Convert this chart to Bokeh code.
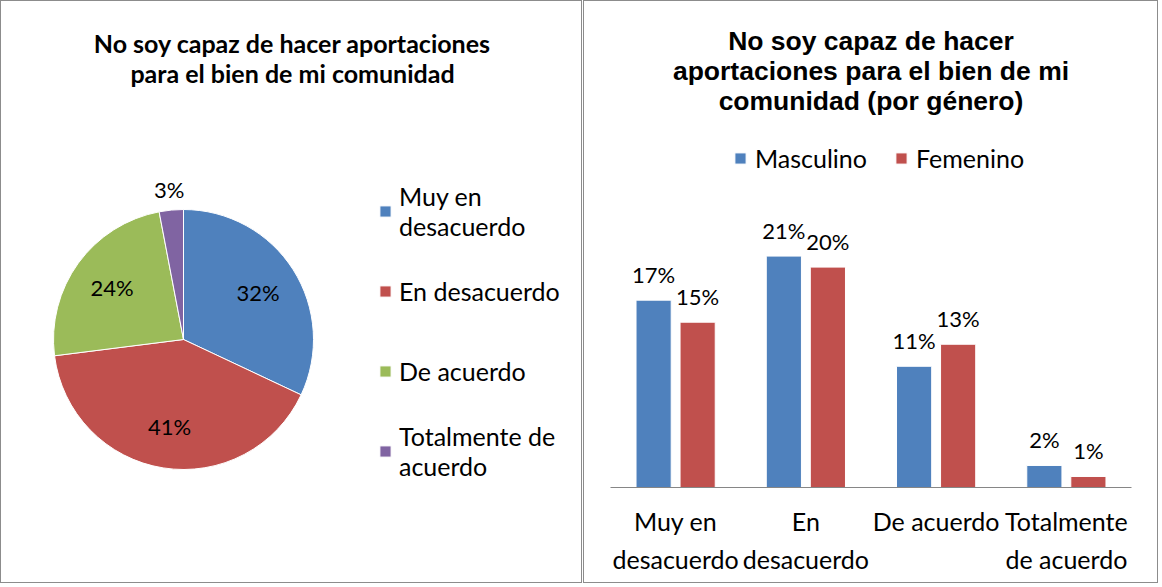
import numpy as np
from bokeh.plotting import figure
from bokeh.models import (ColumnDataSource, Range1d, FactorRange, Legend,
                          LegendItem, Label, InlineStyleSheet)
from bokeh.transform import dodge
from bokeh.layouts import row
from bokeh.core.properties import value
from bokeh.embed import file_html
from bokeh.resources import INLINE

# ---------------- data ----------------
pie_categories = ["Muy en desacuerdo", "En desacuerdo", "De acuerdo", "Totalmente de acuerdo"]
pie_legend_labels = ["Muy en\ndesacuerdo", "En desacuerdo", "De acuerdo", "Totalmente de\nacuerdo"]
pie_values = [32, 41, 24, 3]
pie_colors = ["#4F81BD", "#C0504D", "#9BBB59", "#8064A2"]

bar_categories = ["Muy en desacuerdo", "En desacuerdo", "De acuerdo", "Totalmente de acuerdo"]
bar_tick_labels = ["Muy en\ndesacuerdo", "En\ndesacuerdo", "De acuerdo", "Totalmente\nde acuerdo"]
masculino = [17, 21, 11, 2]
femenino = [15, 20, 13, 1]
series_names = ["Masculino", "Femenino"]
series_colors = ["#4F81BD", "#C0504D"]

title_left = ["No soy capaz de hacer aportaciones", "para el bien de mi comunidad"]
title_right = ["No soy capaz de hacer", "aportaciones para el bien de mi", "comunidad (por género)"]

BODY = "Lato"
H = 583          # inner height of each panel
BOT = 97         # space below the plotting frame (category labels)
FH = H - BOT     # frame height (pixel units)


def border_sheet():
    return InlineStyleSheet(css=":host { border: 1px solid #8c8c8c; }")


def py(abs_y):
    """panel pixel row -> frame pixel coordinate (bottom-up)"""
    return FH + 1 - abs_y


# ---------------- pie chart ----------------
W1 = 582
p1 = figure(width=W1, height=H, x_range=Range1d(0, W1), y_range=Range1d(0, FH),
            toolbar_location=None, output_backend="svg", x_axis_location=None,
            y_axis_location=None, min_border_left=0, min_border_right=0,
            min_border_bottom=BOT, min_border_top=0, title=None)
p1.grid.visible = False
p1.outline_line_color = None
p1.stylesheets = [border_sheet()]

vals = np.array(pie_values, dtype=float)
frac = vals / vals.sum()
cum = np.concatenate([[0], np.cumsum(frac)])
start = np.pi / 2 - 2 * np.pi * cum[:-1]
end = np.pi / 2 - 2 * np.pi * cum[1:]
mid = (start + end) / 2
cx, cy, R = 182, py(339), 130
lab_r = np.where(frac >= 0.05, 0.68 * R, R + 21)
pie_src = ColumnDataSource(dict(
    cat=pie_categories, start=start, end=end, color=pie_colors,
    lx=cx + lab_r * np.cos(mid), ly=cy + lab_r * np.sin(mid),
    lbl=[f"{v:.0f}%" for v in pie_values]))
wr = p1.wedge(x=cx, y=cy, radius=R, start_angle="start", end_angle="end",
              direction="clock", fill_color="color", line_color="white",
              line_width=1, source=pie_src)
p1.text(x="lx", y="ly", text="lbl", source=pie_src, text_align="center",
        text_baseline="middle", text_font=value(BODY), text_font_size="22px",
        text_color="black")

leg1 = Legend(items=[LegendItem(label=pie_legend_labels[i], renderers=[wr], index=i)
                     for i in range(len(pie_categories))],
              location=(377, 6), orientation="vertical",
              glyph_width=14, glyph_height=14, label_standoff=7,
              label_text_font=BODY, label_text_font_size="25px",
              label_text_color="black", label_text_line_height=1.2,
              label_height=60, spacing=20, padding=0, margin=0,
              border_line_color=None, background_fill_alpha=0)
p1.add_layout(leg1)

for t, b in zip(title_left, (42, 72)):
    p1.add_layout(Label(x=291, y=py(b), text=t, text_align="center",
                        text_baseline="alphabetic", text_font=BODY,
                        text_font_size="25px", text_font_style="bold",
                        text_color="black"))

# ---------------- bar chart ----------------
W2 = 575
SCALE = 11.02
p2 = figure(width=W2, height=H, x_range=FactorRange(*bar_tick_labels, range_padding=0),
            y_range=Range1d(0, FH / SCALE), toolbar_location=None, output_backend="svg",
            y_axis_location=None, min_border_left=26, min_border_right=28,
            min_border_bottom=BOT, min_border_top=0, title=None)
p2.grid.visible = False
p2.outline_line_color = None
p2.stylesheets = [border_sheet()]
p2.extra_y_ranges = {"px": Range1d(0, FH)}

bar_src = ColumnDataSource(dict(
    cat=bar_tick_labels, name=bar_categories, m=masculino, f=femenino,
    m_lbl=[f"{v}%" for v in masculino], f_lbl=[f"{v}%" for v in femenino]))
OFF, BW = 0.169, 0.27
rm = p2.vbar(x=dodge("cat", -OFF, range=p2.x_range), top="m", width=BW, bottom=0,
             fill_color=series_colors[0], line_color="white", line_width=1, source=bar_src)
rf = p2.vbar(x=dodge("cat", OFF, range=p2.x_range), top="f", width=BW, bottom=0,
             fill_color=series_colors[1], line_color="white", line_width=1, source=bar_src)
for col, off in (("m_lbl", -OFF), ("f_lbl", OFF)):
    p2.text(x=dodge("cat", off, range=p2.x_range), y=col[0], text=col, source=bar_src,
            text_align="center", text_baseline="alphabetic", y_offset=-26,
            text_font=value(BODY), text_font_size="22px", text_color="black")

ax = p2.xaxis[0]
ax.axis_line_color = "#868686"
ax.axis_line_width = 1
ax.major_tick_line_color = None
ax.minor_tick_line_color = None
ax.major_label_standoff = 12
ax.major_label_text_font = BODY
ax.major_label_text_font_size = "25px"
ax.major_label_text_color = "black"
ax.major_label_text_line_height = 1.28

leg2 = Legend(items=[LegendItem(label=series_names[0], renderers=[rm]),
                     LegendItem(label=series_names[1], renderers=[rf])],
              location=(123, py(173)), orientation="horizontal",
              glyph_width=14, glyph_height=14, label_standoff=8,
              label_text_font=BODY, label_text_font_size="25px",
              label_text_color="black",
              spacing=27, padding=0, margin=0,
              border_line_color=None, background_fill_alpha=0)
p2.add_layout(leg2)

x_mid = len(bar_categories) / 2   # centre of the categorical axis
for t, b in zip(title_right, (40, 70, 100)):
    p2.add_layout(Label(x=x_mid, y=py(b), y_range_name="px",
                        text=t, text_align="center", text_baseline="alphabetic",
                        text_font="Liberation Sans", text_font_size="26.5px",
                        text_font_style="bold", text_color="black"))

layout = row(p1, p2, spacing=1)
open("out.html", "w").write(file_html(layout, INLINE))
